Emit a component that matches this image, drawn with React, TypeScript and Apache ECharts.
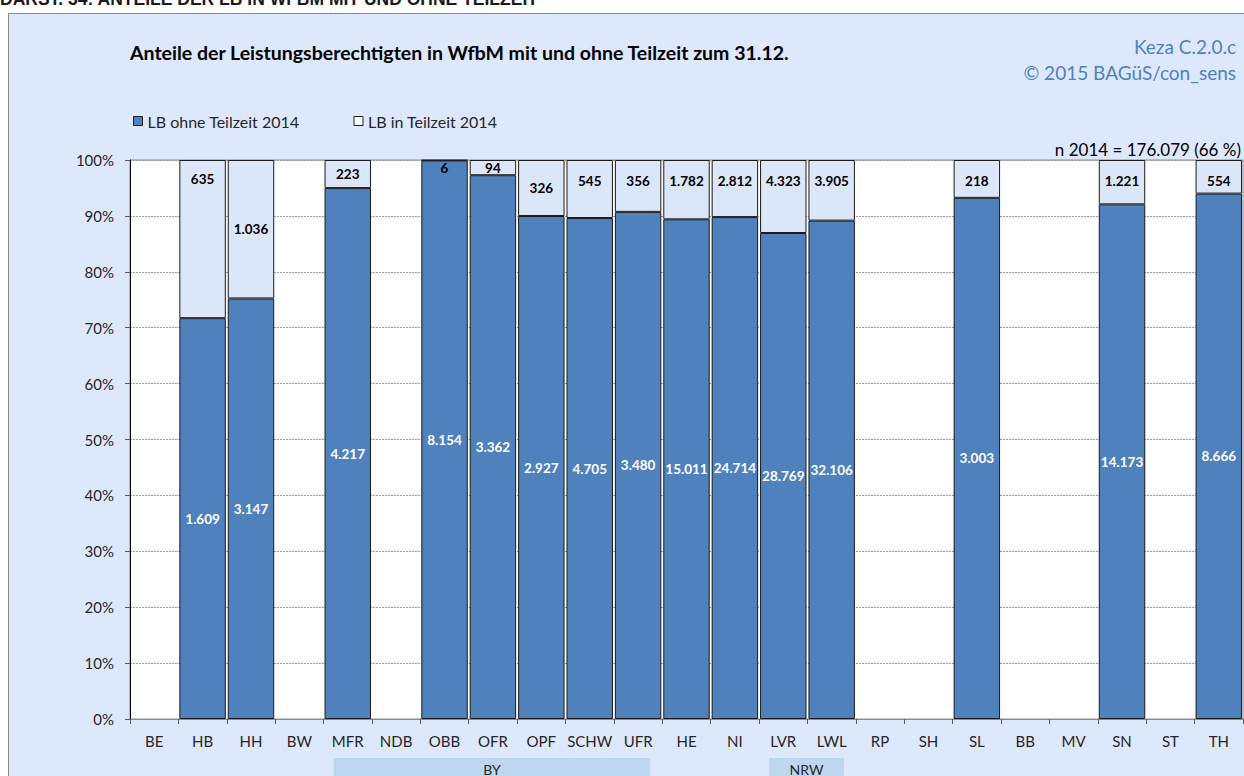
import React, { useEffect, useRef } from "react";
import * as echarts from "echarts";

const categories = ["BE", "HB", "HH", "BW", "MFR", "NDB", "OBB", "OFR", "OPF", "SCHW", "UFR", "HE", "NI", "LVR", "LWL", "RP", "SH", "SL", "BB", "MV", "SN", "ST", "TH"];
const ohneTeilzeit = [null, 1609, 3147, null, 4217, null, 8154, 3362, 2927, 4705, 3480, 15011, 24714, 28769, 32106, null, null, 3003, null, null, 14173, null, 8666];
const inTeilzeit = [null, 635, 1036, null, 223, null, 6, 94, 326, 545, 356, 1782, 2812, 4323, 3905, null, null, 218, null, null, 1221, null, 554];
// label placement of the Teilzeit values: "c" = centred in segment, number = distance from top
const teilzeitLabelPlace: (string | number)[] = ["", 12, "c", "", "c", "", 1, "c", "c", 14, 14, 14, 14, 14, 14, "", "", 14, "", "", 14, "", 14];
const groups = [
  { name: "BY", from: "MFR", to: "UFR" },
  { name: "NRW", from: "LVR", to: "LWL" },
];
const seriesNames = ["LB ohne Teilzeit 2014", "LB in Teilzeit 2014"];
const chartTitle = "Anteile der Leistungsberechtigten in WfbM mit und ohne Teilzeit zum 31.12.";
const pageHeading = "DARST. 34: ANTEILE DER LB IN WFBM MIT UND OHNE TEILZEIT";
const sourceLines = ["Keza C.2.0.c", "© 2015 BAGüS/con_sens"];
const nNote = "n 2014 = 176.079 (66 %)";

const FONT = "Lato, 'Noto Sans', sans-serif";
const BLUE = "#4F81BD";
const LIGHT = "#DCE6F9";
const BG = "#DEE8FC";

function fmt(v: number): string {
  return String(v).replace(/\B(?=(\d{3})+(?!\d))/g, ".");
}

export default function App() {
  const ref = useRef<HTMLDivElement>(null);
  useEffect(() => {
    if (!ref.current) return;
    const chart = echarts.init(ref.current, null, { renderer: "svg" });

    const ohnePct = ohneTeilzeit.map((v, i) => {
      const t = inTeilzeit[i];
      if (v == null || t == null) return null;
      return { value: (v / (v + t)) * 100, raw: v };
    });
    const teilPct = inTeilzeit.map((t, i) => {
      const v = ohneTeilzeit[i];
      if (v == null || t == null) return null;
      const place = teilzeitLabelPlace[i];
      const label =
        place === "c"
          ? { position: "inside" as const }
          : { position: "insideTop" as const, distance: place as number };
      return { value: (t / (v + t)) * 100, raw: t, label };
    });

    chart.setOption({
      animation: false,
      backgroundColor: "#ffffff",
      textStyle: { fontFamily: FONT },
      grid: {
        left: 130,
        right: 1,
        top: 160,
        bottom: 57,
        show: true,
        backgroundColor: "#ffffff",
        borderColor: "#8c8c8c",
        borderWidth: 1,
        containLabel: false,
      },
      legend: {
        left: 128,
        top: 108,
        itemWidth: 9,
        itemHeight: 9,
        itemGap: 54,
        textStyle: { fontFamily: FONT, fontSize: 16, color: "#262626" },
        data: [
          { name: seriesNames[0], icon: "rect", itemStyle: { color: BLUE, borderColor: "#1f1f1f", borderWidth: 1 } },
          { name: seriesNames[1], icon: "rect", itemStyle: { color: "#ffffff", borderColor: "#1f1f1f", borderWidth: 1 } },
        ],
      },
      xAxis: {
        type: "category",
        data: categories,
        axisLine: { show: true, lineStyle: { color: "#8c8c8c", width: 1 } },
        axisTick: { show: true, length: 5, lineStyle: { color: "#595959" } },
        axisLabel: { interval: 0, fontFamily: FONT, fontSize: 15, color: "#262626", margin: 14 },
      },
      yAxis: {
        type: "value",
        min: 0,
        max: 100,
        interval: 10,
        axisLine: { show: true, lineStyle: { color: "#000000", width: 1 } },
        axisTick: { show: true, length: 5, lineStyle: { color: "#595959" } },
        axisLabel: {
          fontFamily: FONT,
          fontSize: 15,
          color: "#262626",
          margin: 16,
          formatter: (v: number) => `${v}%`,
        },
        splitLine: { show: true, lineStyle: { color: "#9a9a9a", type: [2, 1], width: 1 } },
      },
      series: [
        {
          name: seriesNames[0],
          type: "bar",
          stack: "total",
          barCategoryGap: "4%",
          data: ohnePct,
          itemStyle: { color: BLUE, borderColor: "#1a1a1a", borderWidth: 1 },
          label: {
            show: true,
            position: "inside",
            color: "#ffffff",
            fontFamily: FONT,
            fontWeight: "bold",
            fontSize: 13.5,
            formatter: (p: any) => fmt(p.data.raw),
          },
        },
        {
          name: seriesNames[1],
          type: "bar",
          stack: "total",
          barCategoryGap: "4%",
          data: teilPct,
          itemStyle: { color: LIGHT, borderColor: "#1a1a1a", borderWidth: 1 },
          label: {
            show: true,
            color: "#000000",
            fontFamily: FONT,
            fontWeight: "bold",
            fontSize: 13.5,
            formatter: (p: any) => fmt(p.data.raw),
          },
        },
      ],
    });

    // group boxes under the axis, placed from the category scale
    const step = chart.convertToPixel({ xAxisIndex: 0 }, categories[1]) - chart.convertToPixel({ xAxisIndex: 0 }, categories[0]);
    const groupEls: any[] = [];
    groups.forEach((g) => {
      const x0 = chart.convertToPixel({ xAxisIndex: 0 }, g.from) - step / 2 + 10;
      const x1 = chart.convertToPixel({ xAxisIndex: 0 }, g.to) + step / 2 - 12;
      groupEls.push({
        type: "rect",
        shape: { x: x0, y: 758, width: x1 - x0, height: 40 },
        style: { fill: "#BDD7EE" },
        z: 5,
      });
      groupEls.push({
        type: "text",
        x: (x0 + x1) / 2,
        y: 762,
        style: { text: g.name, fontFamily: FONT, fontSize: 14, fill: "#262626", align: "center", verticalAlign: "top" },
        z: 6,
      });
    });

    chart.setOption({
      graphic: [
        {
          type: "rect",
          shape: { x: 8.5, y: 13.5, width: 1250, height: 800 },
          style: { fill: BG, stroke: "#8c8c8c", lineWidth: 1 },
          z: -10,
          silent: true,
        },
        {
          type: "text",
          x: 0,
          y: 8,
          style: { text: pageHeading, fontFamily: "'Liberation Sans', Arial, sans-serif", fontWeight: "bold", fontSize: 17.5, fill: "#1a1a1a", verticalAlign: "bottom" },
        },
        {
          type: "text",
          x: 130,
          y: 52,
          style: { text: chartTitle, fontFamily: FONT, fontWeight: "bold", fontSize: 19.5, fill: "#000000", verticalAlign: "middle" },
        },
        {
          type: "text",
          x: 1236,
          y: 46,
          style: { text: sourceLines[0], fontFamily: FONT, fontSize: 19, fill: "#4F81BD", align: "right", verticalAlign: "middle" },
        },
        {
          type: "text",
          x: 1236,
          y: 72,
          style: { text: sourceLines[1], fontFamily: FONT, fontSize: 19, fill: "#4F81BD", align: "right", verticalAlign: "middle" },
        },
        {
          type: "text",
          x: 1241,
          y: 149,
          style: { text: nNote, fontFamily: FONT, fontSize: 17, fill: "#000000", align: "right", verticalAlign: "middle" },
        },
        ...groupEls,
      ],
    });

    return () => chart.dispose();
  }, []);

  return <div ref={ref} style={{ position: "absolute", left: 0, top: 0, width: 1244, height: 776 }} />;
}
